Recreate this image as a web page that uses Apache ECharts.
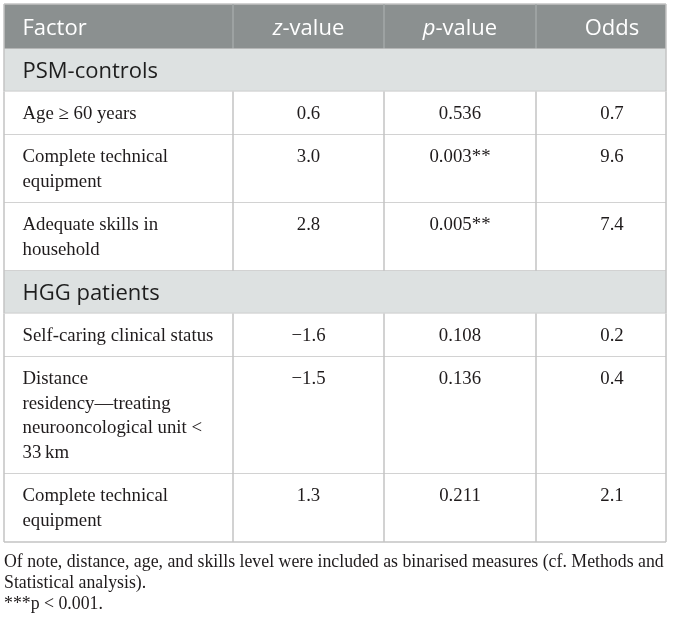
<!DOCTYPE html>
<html>
<head>
<meta charset="utf-8">
<title>logistic regression table</title>
<style>html,body{margin:0;padding:0;background:#fff;}</style>
</head>
<body>
<div id="main" style="width:673px;height:624px;"></div>
<script src="https://cdn.jsdelivr.net/npm/echarts@6/dist/echarts.min.js"></script>
<script type="text/javascript">
// table content
var headers = ['Factor', '{i|z}{n|-value}', '{i|p}{n|-value}', 'Odds'];
var groups = ['PSM-controls', 'HGG patients'];
var factors = [
    'Age \u2265 60 years',
    'Complete technical\nequipment',
    'Adequate skills in\nhousehold',
    'Self-caring clinical status',
    'Distance\nresidency\u2014treating\nneurooncological unit <\n33\u2009km',
    'Complete technical\nequipment'
];
var groupOf = [0, 0, 0, 1, 1, 1];
var zValues = [0.6, 3.0, 2.8, -1.6, -1.5, 1.3];
var pValues = [0.536, 0.003, 0.005, 0.108, 0.136, 0.211];
var pStars = ['', '**', '**', '', '', ''];
var oddsValues = [0.7, 9.6, 7.4, 0.2, 0.4, 2.1];
var notes = [
    'Of note, distance, age, and skills level were included as binarised measures (cf. Methods and',
    'Statistical analysis).',
    '***p < 0.001.'
];

// layout
var colEdges = [0, 229, 380, 532, 662];
var colCenters = [0, 304.5, 456, 608];
var sansFont = 'Open Sans';
var serifFont = 'Liberation Serif';
var lineH = 24.5;

function fmt(v, d) {
    var s = Math.abs(v).toFixed(d);
    return v < 0 ? '\u2212' + s : s;
}

// build the list of rows (header, group rows, data rows)
var rows = [{kind: 'head'}];
var lastGroup = -1;
for (var i = 0; i < factors.length; i++) {
    if (groupOf[i] !== lastGroup) {
        rows.push({kind: 'group', g: groupOf[i]});
        lastGroup = groupOf[i];
    }
    rows.push({kind: 'data', i: i});
}
var data = [];
var y = 0;
for (var r = 0; r < rows.length; r++) {
    var h;
    if (rows[r].kind === 'head') h = 45;
    else if (rows[r].kind === 'group') h = 42.5;
    else h = 19 + lineH * factors[rows[r].i].split('\n').length;
    data.push([r, y, y + h]);
    y += h;
}
var total = y;

var borderColor = '#c3c3c3';

function line(x1, y1, x2, y2, color) {
    return {type: 'line', shape: {x1: x1, y1: y1, x2: x2, y2: y2},
        style: {stroke: color || borderColor, lineWidth: 1.5}};
}

function renderItem(params, api) {
    var row = rows[api.value(0)];
    var p0 = api.coord([colEdges[0], api.value(1)]);
    var p1 = api.coord([colEdges[4], api.value(2)]);
    var xs = colEdges.map(function (e) { return api.coord([e, 0])[0]; });
    var cx = colCenters.map(function (e) { return api.coord([e, 0])[0]; });
    var top = p0[1], bot = p1[1], left = p0[0], right = p1[0];
    var kids = [];
    var bg = row.kind === 'head' ? '#8b9090' : (row.kind === 'group' ? '#dde1e1' : '#ffffff');
    kids.push({type: 'rect', shape: {x: left, y: top, width: right - left, height: bot - top},
        style: {fill: bg}});
    if (row.kind === 'head') {
        kids.push(line(left, top, right, top));
        for (var k = 1; k < 4; k++) kids.push(line(xs[k], top, xs[k], bot, '#a3a8a8'));
        for (var c = 0; c < 4; c++) {
            var rich = {
                i: {fontFamily: sansFont, fontSize: 22, fontStyle: 'italic', fill: '#fff'},
                n: {fontFamily: sansFont, fontSize: 22, fill: '#fff'}
            };
            kids.push({type: 'text', style: {
                text: headers[c], x: c === 0 ? left + 18.5 : cx[c], y: top + 24.5,
                fill: '#fff', fontFamily: sansFont, fontSize: 22,
                align: c === 0 ? 'left' : 'center', verticalAlign: 'middle', rich: rich
            }});
        }
    } else if (row.kind === 'group') {
        kids.push({type: 'text', style: {
            text: groups[row.g], x: left + 18.5, y: top + 23,
            fill: '#1e1e1e', fontFamily: sansFont, fontSize: 22,
            align: 'left', verticalAlign: 'middle'
        }});
    } else {
        var i = row.i;
        for (var k2 = 1; k2 < 4; k2++) kids.push(line(xs[k2], top, xs[k2], bot));
        var cells = [factors[i], fmt(zValues[i], 1), fmt(pValues[i], 3) + pStars[i], fmt(oddsValues[i], 1)];
        for (var c2 = 0; c2 < 4; c2++) {
            kids.push({type: 'text', style: {
                text: cells[c2], x: c2 === 0 ? left + 18.5 : cx[c2], y: top + 10,
                fill: '#1f1b1c', fontFamily: serifFont, fontSize: 18.8, lineHeight: lineH,
                align: c2 === 0 ? 'left' : 'center', verticalAlign: 'top'
            }});
        }
    }
    kids.push(line(left, bot, right, bot));
    kids.push(line(left, top, left, bot));
    kids.push(line(right, top, right, bot));
    return {type: 'group', children: kids};
}

var myChart = echarts.init(document.getElementById('main'));
var option = {
    backgroundColor: '#fff',
    animation: false,
    title: {
        text: notes.join('\n'),
        left: 0,
        top: 552,
        padding: [0, 0, 0, 4],
        textStyle: {fontFamily: serifFont, fontSize: 17.8, fontWeight: 'normal', color: '#1f1b1c', lineHeight: 21}
    },
    grid: {left: 4, top: 4, width: 662, height: total},
    xAxis: {type: 'value', min: 0, max: 662, show: false},
    yAxis: {type: 'value', min: 0, max: total, inverse: true, show: false},
    series: [{
        type: 'custom',
        renderItem: renderItem,
        data: data,
        silent: true
    }]
};
myChart.setOption(option);
</script>
</body>
</html>
